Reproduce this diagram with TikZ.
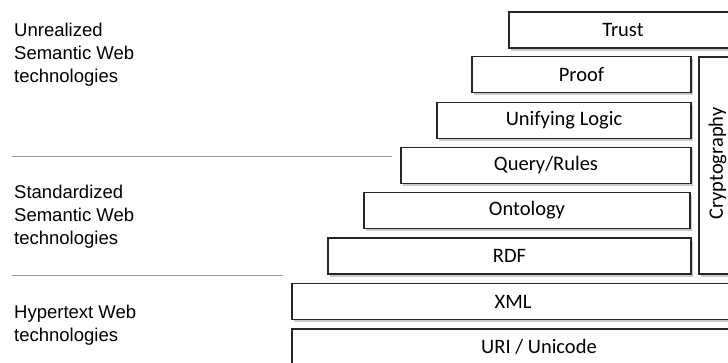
\documentclass[tikz,border=0pt]{standalone}
\usepackage{fontspec}
\setmainfont{Liberation Sans}
\newfontfamily\layerfont{Carlito}
\usetikzlibrary{shadows,positioning}

\begin{document}
\begin{tikzpicture}[x=1pt,y=-1pt,
    layer/.style={draw=black!85,line width=1.2pt,fill=white,inner sep=0pt,
      minimum height=36pt,font=\layerfont\fontsize{20.5}{24}\selectfont,
      drop shadow={shadow xshift=1.5pt,shadow yshift=-2.5pt,fill=black!30,opacity=.7}},
    group/.style={anchor=base west,align=left,inner sep=0pt,
      font=\fontsize{18.5}{23}\selectfont},
    divider/.style={draw=black!40,line width=0.9pt}]
      \useasboundingbox (0,0) rectangle (728,362);
      \clip (0,0) rectangle (728,362);

      % group labels (base = last line)
      \node[group] (unrealized) at (14,82) {Unrealized\\Semantic Web\\technologies};
      \node[group] (standard) at (14,244) {Standardized\\Semantic Web\\technologies};
      \node[group] (hypertext) at (14,341) {Hypertext Web\\technologies};

      \draw[divider] (12,156) -- (392,156);
      \draw[divider] (12,275) -- (283,275);

      \node[layer,minimum width=494pt] (uri) at (539,347) {URI / Unicode};
      \node[layer,minimum width=442pt] (xml) at (513,301.5) {XML};
      \node[layer,minimum width=363pt] (rdf) at (509.5,256) {RDF};
      \node[layer,minimum width=326pt] (onto) at (527,210.5) {Ontology};
      \node[layer,minimum width=290pt] (query) at (546,165.5) {Query/Rules};
      \node[layer,minimum width=254pt] (logic) at (564,120.5) {Unifying Logic};
      \node[layer,minimum width=219pt] (proof) at (581.5,74.5) {Proof};
      \node[layer,minimum width=228pt] (trust) at (623,30) {Trust};
      \node[layer,minimum width=46pt,minimum height=217pt] (crypto) at (722,165.5) {};
      \node[rotate=90,inner sep=0pt,font=\layerfont\fontsize{20.5}{24}\selectfont] (cryptotext)
        at ([xshift=-4.5pt,yshift=2pt]crypto.center) {Cryptography};
    \end{tikzpicture}
\end{document}
